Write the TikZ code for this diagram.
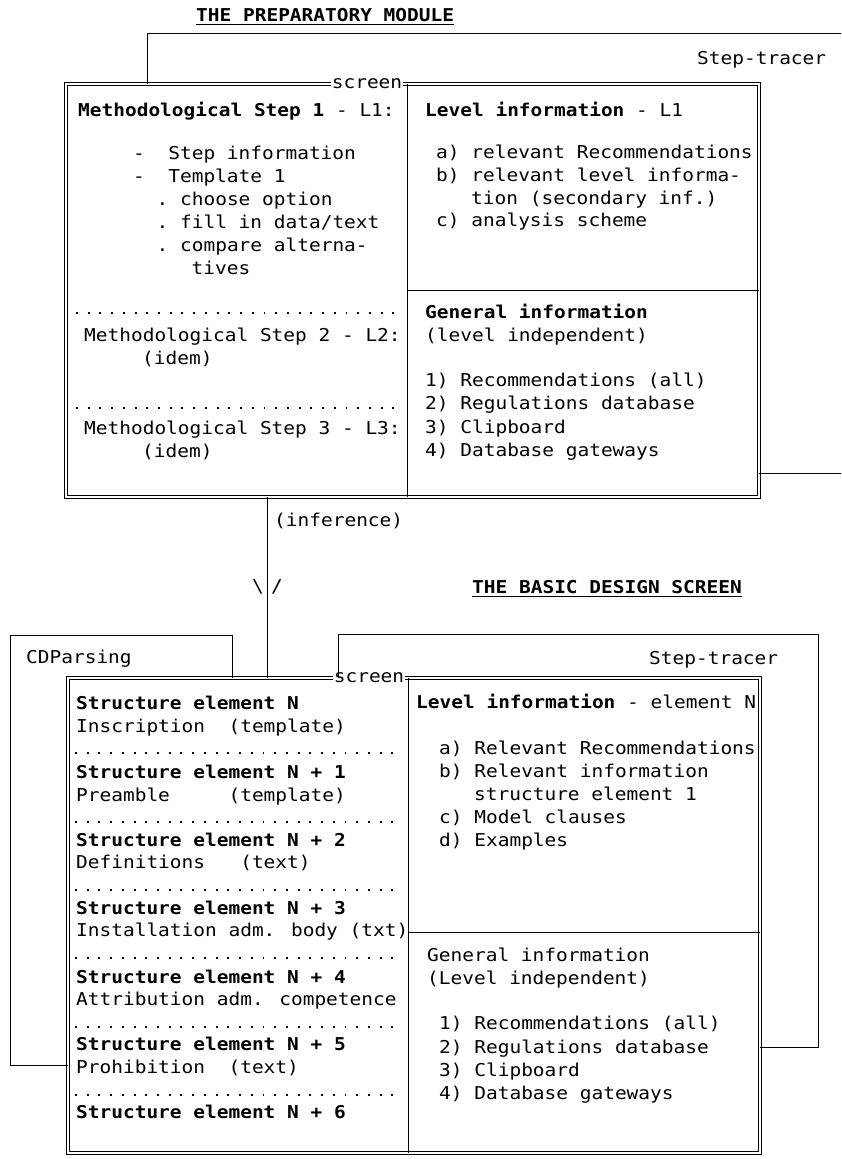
\documentclass[tikz,border=0pt]{standalone}
\usepackage{fontspec}
\newfontfamily\scrfont[FakeStretch=1.1]{DejaVu Sans Mono}
\newcommand\myscr{\scrfont\fontsize{17.7}{22}\selectfont}
\begin{document}
\begin{tikzpicture}[x=1pt,y=-1pt,
  txt/.style={anchor=base west,inner sep=0pt,font=\myscr},
  ttl/.style={anchor=base west,inner sep=0pt,font=\myscr\bfseries},
  lbl/.style={fill=white,inner sep=1pt,font=\myscr},
  thinln/.style={line width=0.8pt},
  scrbox/.style={draw,double,line width=0.7pt,double distance=1.8pt,inner sep=0pt},
  dotrow/.style={line width=1.9pt,dash pattern=on 1.9pt off 9.82pt}]
\useasboundingbox (0,0) rectangle (841,1159);

% ---------- titles ----------
\node[ttl] (t1) at (196,21) {THE PREPARATORY MODULE};
\draw[thinln] ([yshift=-3pt]t1.base west) -- ([yshift=-3pt]t1.base east);
\node[ttl] (t2) at (472,593) {THE BASIC DESIGN SCREEN};
\draw[thinln] ([yshift=-3pt]t2.base west) -- ([yshift=-3pt]t2.base east);

% ---------- upper screen ----------
\node[scrbox,minimum width=693pt,minimum height=413pt] (scrA) at (412.5,290.5) {};
\coordinate (divAx) at (407,0);
\coordinate (hdivA) at (0,290);
\draw[thinln] (scrA.north -| divAx) -- (scrA.south -| divAx);
\draw[thinln] (hdivA -| divAx) -- (hdivA -| scrA.east);
\node[lbl] (scrlblA) at (367,84) {screen};

% step tracer frame (top)
\coordinate (stA1) at (147,33);
\coordinate (stA2) at (841,33);
\coordinate (stA3) at (841,473);
\draw[thinln] (scrA.north -| stA1) -- (stA1) -- (stA2);
\draw[thinln] (scrA.east |- stA3) -- (stA3);
\node[txt] (stAtxt) at (697,64) {Step-tracer};

% left column
\node[txt] (mA0) at (78,116) {\textbf{Methodological Step 1} - L1:};
\node[txt] (mA2) at (133,159) {-~~Step information};
\node[txt] (mA3) at (133,182) {-~~Template 1};
\node[txt] (mA4) at (156.5,205) {.~choose option};
\node[txt] (mA5) at (156.5,228) {.~fill in data/text};
\node[txt] (mA6) at (156.5,251) {.~compare alterna-};
\node[txt] (mA7) at (191.5,274) {tives};
\draw[dotrow] (76,313) -- (402,313);
\node[txt] (mA10) at (84,341) {Methodological Step 2 - L2:};
\node[txt] (mA11) at (142,364) {(idem)};
\draw[dotrow] (76,408) -- (402,408);
\node[txt] (mA14) at (84,434) {Methodological Step 3 - L3:};
\node[txt] (mA15) at (142,457) {(idem)};

% right column
\node[txt] (lA0) at (425,116) {\textbf{Level information} - L1};
\node[txt] (lA2) at (436,158) {a) relevant Recommendations};
\node[txt] (lA3) at (436,181) {b) relevant level informa-};
\node[txt] (lA4) at (471,204) {tion (secondary inf.)};
\node[txt] (lA5) at (436,226) {c) analysis scheme};
\node[txt] (gA0) at (425,318) {\textbf{General information}};
\node[txt] (gA1) at (425,341) {(level independent)};
\node[txt] (gA3) at (425,386) {1) Recommendations (all)};
\node[txt] (gA4) at (425,409) {2) Regulations database};
\node[txt] (gA5) at (425,433) {3) Clipboard};
\node[txt] (gA6) at (425,456) {4) Database gateways};

% ---------- lower screen ----------
\node[scrbox,minimum width=692pt,minimum height=475pt] (scrB) at (414,915.5) {};
\coordinate (divBx) at (408,0);
\coordinate (hdivB) at (0,932);
\draw[thinln] (scrB.north -| divBx) -- (scrB.south -| divBx);
\draw[thinln] (hdivB -| divBx) -- (hdivB -| scrB.east);
\node[lbl] (scrlblB) at (369,678) {screen};

% inference connector
\coordinate (infx) at (267,0);
\draw[thinln] (scrA.south -| infx) -- (scrB.north -| infx);
\node[txt] (inf) at (274,526) {(inference)};
\node[font=\myscr,inner sep=0pt] (bsl) at (258,587) {\textbackslash};
\node[font=\myscr,inner sep=0pt] (sl) at (277,587) {/};

% CDParsing frame
\coordinate (cdTR) at (232,635);
\coordinate (cdTL) at (10,635);
\coordinate (cdBL) at (10,1065);
\draw[thinln] (scrB.north -| cdTR) -- (cdTR) -- (cdTL) -- (cdBL) -- (scrB.west |- cdBL);
\node[txt] (cdp) at (26,663) {CDParsing};

% Step-tracer frame (bottom)
\coordinate (stBTL) at (338,634);
\coordinate (stBTR) at (818,634);
\coordinate (stBBR) at (818,1047);
\draw[thinln] (scrB.north -| stBTL) -- (stBTL) -- (stBTR) -- (stBBR) -- (scrB.east |- stBBR);
\node[txt] (stBtxt) at (649,664) {Step-tracer};

% lower left column
\node[txt] (sB0) at (76,709) {\textbf{Structure element N}};
\node[txt] (sB1) at (76,732) {Inscription~~(template)};
\draw[dotrow] (75,753) -- (402,753);
\node[txt] (sB2) at (76,778) {\textbf{Structure element N + 1}};
\node[txt] (sB3) at (76,801) {Preamble~~~~~(template)};
\draw[dotrow] (75,822) -- (402,822);
\node[txt] (sB4) at (76,846) {\textbf{Structure element N + 2}};
\node[txt] (sB5) at (76,868) {Definitions~~~(text)};
\draw[dotrow] (75,890) -- (402,890);
\node[txt] (sB6) at (76,914) {\textbf{Structure element N + 3}};
\node[txt] (sB7) at (76,936) {Installation adm. body (txt)};
\draw[dotrow] (75,958) -- (402,958);
\node[txt] (sB8) at (76,983) {\textbf{Structure element N + 4}};
\node[txt] (sB9) at (76,1005) {Attribution adm. competence};
\draw[dotrow] (75,1027) -- (402,1027);
\node[txt] (sB10) at (76,1050) {\textbf{Structure element N + 5}};
\node[txt] (sB11) at (76,1073) {Prohibition~~(text)};
\draw[dotrow] (75,1095) -- (402,1095);
\node[txt] (sB12) at (76,1118) {\textbf{Structure element N + 6}};

% lower right column
\node[txt] (lB0) at (416,708) {\textbf{Level information} - element N};
\node[txt] (lB2) at (439,754) {a) Relevant Recommendations};
\node[txt] (lB3) at (439,777) {b) Relevant information};
\node[txt] (lB4) at (474,800) {structure element 1};
\node[txt] (lB5) at (439,823) {c) Model clauses};
\node[txt] (lB6) at (439,846) {d) Examples};
\node[txt] (gB0) at (427,961) {General information};
\node[txt] (gB1) at (427,984) {(Level independent)};
\node[txt] (gB3) at (439,1029) {1) Recommendations (all)};
\node[txt] (gB4) at (439,1053) {2) Regulations database};
\node[txt] (gB5) at (439,1076) {3) Clipboard};
\node[txt] (gB6) at (439,1099) {4) Database gateways};
\end{tikzpicture}
\end{document}
